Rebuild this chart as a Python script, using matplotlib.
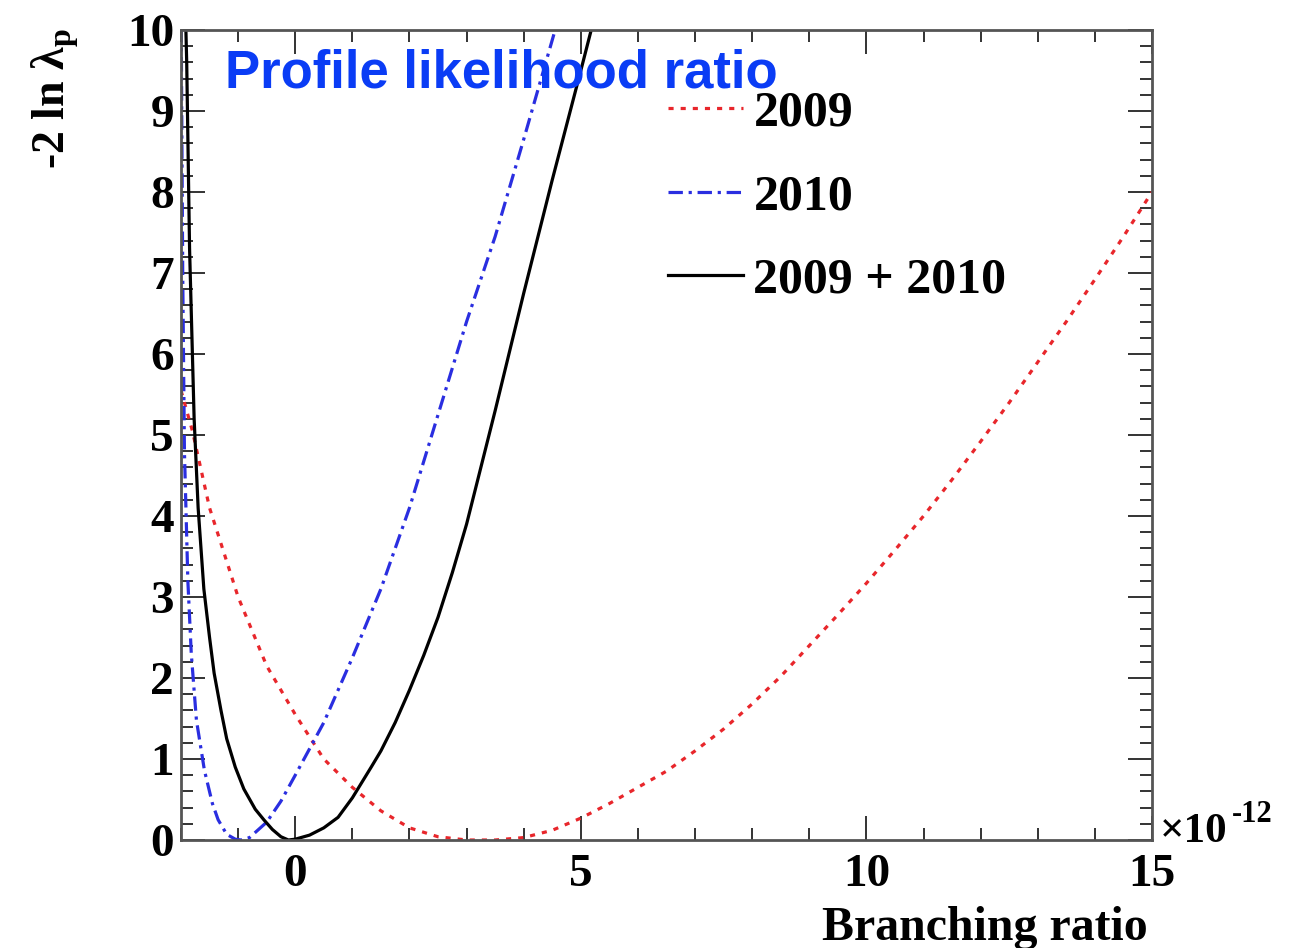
import matplotlib
matplotlib.use("Agg")
import matplotlib.pyplot as plt
from matplotlib.ticker import MultipleLocator

# ---------------- data ----------------
x_2009 = [-2.0, -1.8, -1.5, -1.0, -0.5, 0.0, 0.5, 1.0, 1.5, 2.0, 2.5, 3.0, 3.5, 4.0,
          4.5, 5.0, 5.5, 6.0, 6.5, 7.0, 7.5, 8.0, 8.5, 9.0, 9.5, 10.0, 10.5, 11.0,
          11.5, 12.0, 12.5, 13.0, 13.5, 14.0, 14.5, 15.0]
y_2009 = [5.55, 5.05, 4.1, 3.0, 2.15, 1.55, 1.0, 0.65, 0.36, 0.15, 0.04, 0.0, 0.0, 0.03,
          0.12, 0.27, 0.45, 0.65, 0.85, 1.1, 1.37, 1.68, 2.02, 2.4, 2.78, 3.17, 3.58, 4.0,
          4.45, 4.92, 5.4, 5.9, 6.4, 6.92, 7.45, 8.0]

x_2010 = [-2.0, -1.97, -1.94, -1.88, -1.82, -1.73, -1.59, -1.45, -1.35, -1.2, -1.05,
          -0.95, -0.8, -0.5, -0.25, 0.0, 0.5, 1.0, 1.5, 2.0, 2.5, 3.0, 3.5, 4.0, 4.55]
y_2010 = [10.5, 7.0, 4.8, 3.2, 2.3, 1.48, 0.86, 0.45, 0.25, 0.07, 0.01,
          0.0, 0.03, 0.22, 0.48, 0.8, 1.45, 2.25, 3.1, 4.1, 5.25, 6.4, 7.45, 8.65, 10.0]

x_comb = [-1.95, -1.9, -1.85, -1.77, -1.7, -1.6, -1.5, -1.42, -1.3, -1.2, -1.05, -0.9,
          -0.7, -0.55, -0.4, -0.25, -0.12, 0.0, 0.25, 0.5, 0.75, 1.0, 1.33, 1.5, 1.75,
          2.0, 2.25, 2.5, 2.75, 3.0, 3.5, 4.0, 4.5, 5.0, 5.2]
y_comb = [11.0, 9.6, 7.3, 5.2, 4.1, 3.1, 2.5, 2.06, 1.6, 1.25, 0.9, 0.63,
          0.38, 0.25, 0.13, 0.04, 0.0, 0.01, 0.06, 0.15, 0.28, 0.52, 0.9, 1.1, 1.45,
          1.85, 2.28, 2.75, 3.3, 3.9, 5.3, 6.75, 8.15, 9.5, 10.05]

labels = ["2009", "2010", "2009 + 2010"]
x_ticks = [0, 5, 10, 15]
y_ticks = [0, 1, 2, 3, 4, 5, 6, 7, 8, 9, 10]

# ---------------- figure ----------------
W, H = 1303, 948
fig = plt.figure(figsize=(W / 100, H / 100), dpi=100)
L, R, B, T = 181, 1152, 840, 30
ax = fig.add_axes([L / W, 1 - B / H, (R - L) / W, (B - T) / H])

serif = "Liberation Serif"
lw = 2.3
ax.plot(x_2009, y_2009, color="#e8262b", lw=lw, linestyle=(0, (1.6, 2.2)), label=labels[0])
ax.plot(x_2010, y_2010, color="#2a2ee0", lw=lw, linestyle=(0, (4.5, 1.8, 1.0, 1.8)), label=labels[1])
ax.plot(x_comb, y_comb, color="black", lw=lw, label=labels[2])

ax.set_xlim(-2, 15)
ax.set_ylim(0, 10)
ax.set_xticks(x_ticks)
ax.set_yticks(y_ticks)
ax.xaxis.set_minor_locator(MultipleLocator(1))
ax.yaxis.set_minor_locator(MultipleLocator(0.2))
ax.tick_params(which="both", direction="in", top=True, right=True, width=1.4, color="#333333")
ax.tick_params(which="major", length=17)
ax.tick_params(which="minor", length=8.5)
ax.tick_params(axis="x", which="major", pad=10)
ax.tick_params(axis="y", which="major", pad=5)
for lab in ax.get_xticklabels() + ax.get_yticklabels():
    lab.set_fontfamily(serif)
    lab.set_fontweight("bold")
    lab.set_fontsize(34)
for s in ax.spines.values():
    s.set_linewidth(2.0)
    s.set_color("#555555")

leg = ax.legend(loc="upper left", bbox_to_anchor=(0.502, 0.925), frameon=False,
                prop={"family": serif, "weight": "bold", "size": 36},
                handlelength=1.5, handletextpad=0.2, labelspacing=0.75, borderpad=0,
                borderaxespad=0)

# axis labels
plt.rcParams["mathtext.fontset"] = "custom"
plt.rcParams["mathtext.rm"] = "Liberation Serif:bold"
fig.text(1148 / W, 1 - 940 / H, "Branching ratio", ha="right", va="baseline",
         fontfamily=serif, fontweight="bold", fontsize=34.5)
fig.text(55 / W, 1 - 28 / H, r"-2 ln λ$_{\mathrm{p}}$", ha="center", va="top", rotation=90,
         fontfamily=serif, fontweight="bold", fontsize=33)
fig.text(1160 / W, 1 - 842 / H, "×10", ha="left", va="baseline",
         fontfamily=serif, fontweight="bold", fontsize=31)
fig.text(1232 / W, 1 - 822 / H, "-12", ha="left", va="baseline",
         fontfamily=serif, fontweight="bold", fontsize=22)

# overlay title
fig.text(225 / W, 1 - 88 / H, "Profile likelihood ratio", ha="left", va="baseline",
         fontfamily="Liberation Sans", fontweight="bold", fontsize=38, color="#0a3cf5")

fig.savefig("out.png", dpi=100)
